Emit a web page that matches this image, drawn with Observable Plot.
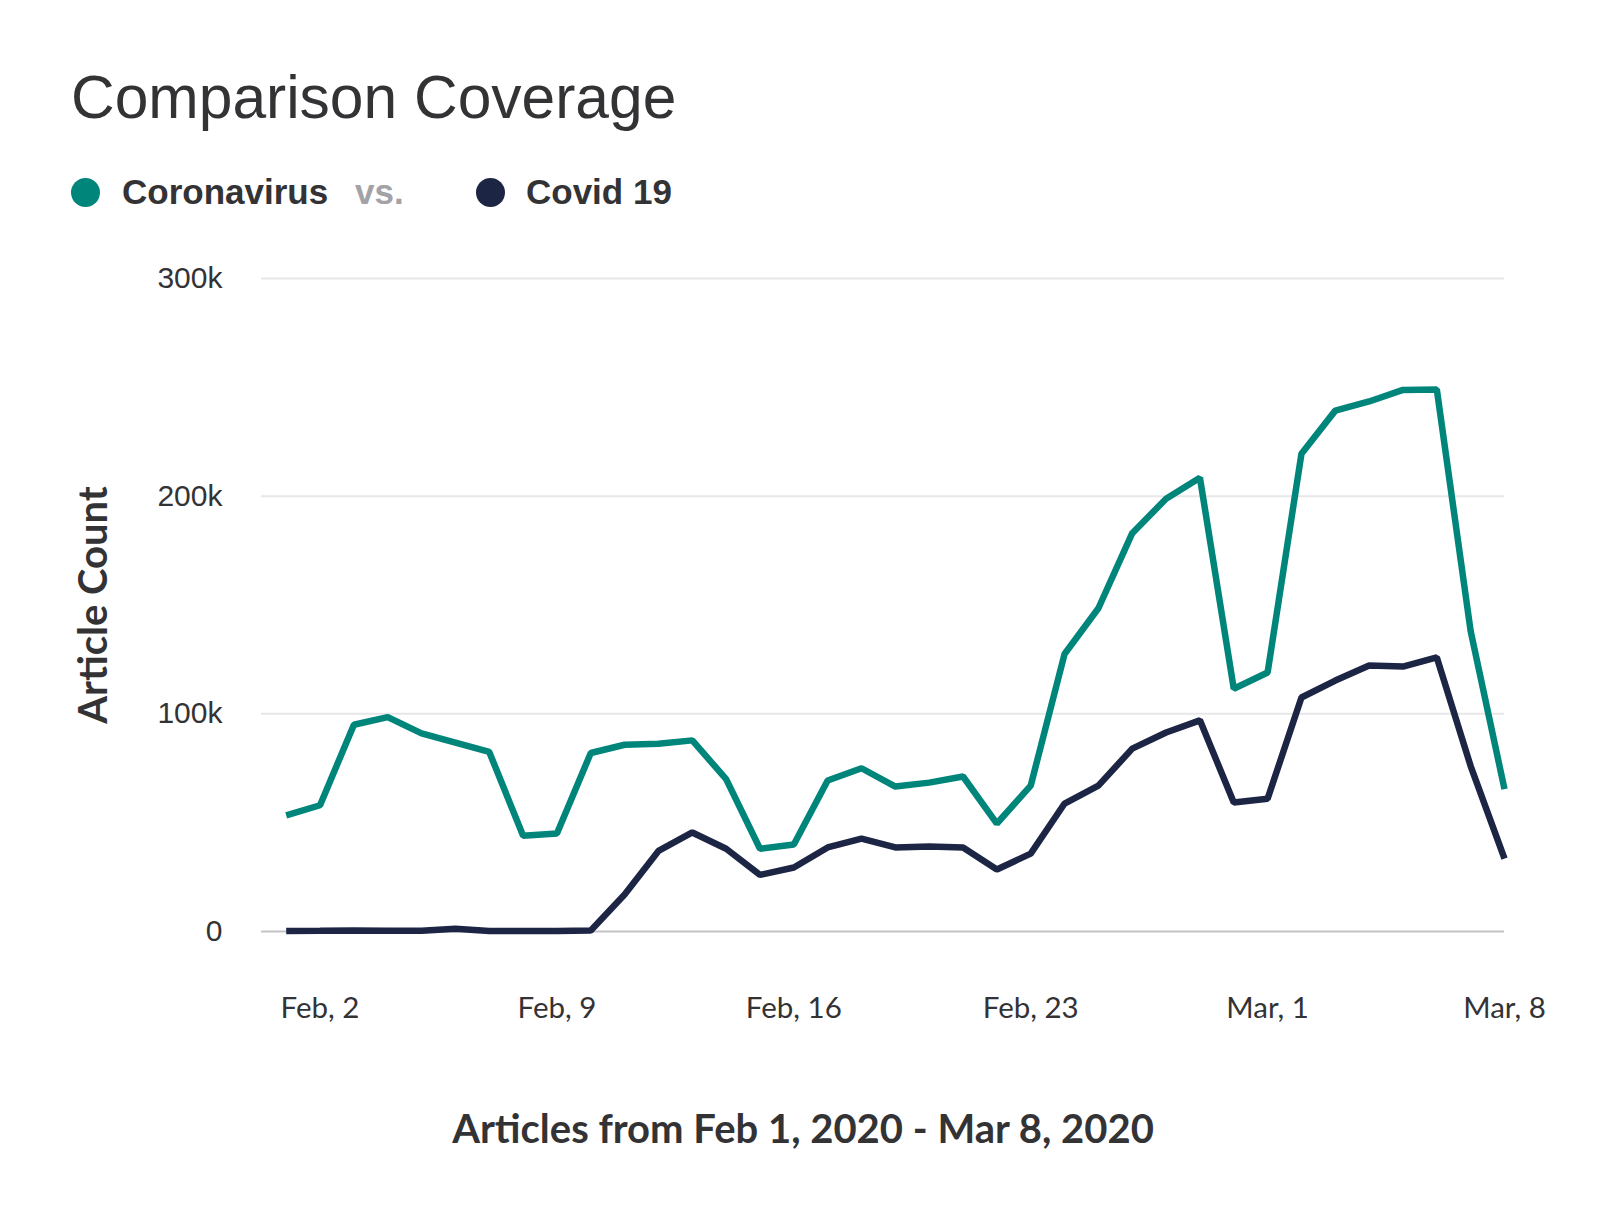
<!DOCTYPE html>
<html>
<head>
<meta charset="utf-8">
<script src="https://cdn.jsdelivr.net/npm/d3@7"></script>
<script src="https://cdn.jsdelivr.net/npm/@observablehq/plot@0.6"></script>
<style>
  html, body { margin: 0; padding: 0; background: #fff; }
  #page { position: relative; width: 1600px; height: 1217px; overflow: hidden; }
  .abs { position: absolute; white-space: nowrap; line-height: 1; }
  #title { left: 71px; top: 62px; font: 400 60.5px "Liberation Sans", Arial, sans-serif; color: #333336; }
  .leg { top: 172px; font: 700 35px "Liberation Sans", Arial, sans-serif; color: #333336; }
  .dot { position: absolute; width: 29px; height: 29px; border-radius: 50%; top: 178px; }
  #chart { position: absolute; left: 0; top: 240px; }
</style>
</head>
<body>
<div id="page">
  <div id="title" class="abs"></div>
  <div id="legend"></div>
  <div id="chart"></div>
</div>
<script>
// ---- data ----
const titleText = "Comparison Coverage";
const seriesNames = ["Coronavirus", "Covid 19"];
const vsText = "vs.";
const seriesColors = ["#00857b", "#1d2545"];
const yLabel = "Article Count";
const xTitle = "Articles from Feb 1, 2020 - Mar 8, 2020";

const dates = [
  "2020-02-01","2020-02-02","2020-02-03","2020-02-04","2020-02-05","2020-02-06","2020-02-07",
  "2020-02-08","2020-02-09","2020-02-10","2020-02-11","2020-02-12","2020-02-13","2020-02-14",
  "2020-02-15","2020-02-16","2020-02-17","2020-02-18","2020-02-19","2020-02-20","2020-02-21",
  "2020-02-22","2020-02-23","2020-02-24","2020-02-25","2020-02-26","2020-02-27","2020-02-28",
  "2020-02-29","2020-03-01","2020-03-02","2020-03-03","2020-03-04","2020-03-05","2020-03-06",
  "2020-03-07","2020-03-08"
];
const coronavirus = [
  53300, 58000, 95000, 98500, 91000, 86800, 82500,
  44000, 45000, 82000, 85800, 86300, 87800, 70000,
  38000, 40000, 69400, 75000, 66600, 68400, 71200,
  49600, 67000, 127500, 148500, 183000, 198800, 208500,
  111500, 119000, 219500, 239300, 243500, 248800, 249000,
  138000, 65400
];
const covid19 = [
  200, 300, 500, 400, 300, 1300, 200,
  200, 200, 500, 17000, 37000, 45500, 38000,
  26000, 29400, 38600, 42700, 38600, 39000, 38600,
  28500, 35800, 58800, 67000, 84000, 91400, 97000,
  59300, 61000, 107500, 115300, 122200, 121700, 125900,
  76000, 33500
];
const xTickDates = ["2020-02-02","2020-02-09","2020-02-16","2020-02-23","2020-03-01","2020-03-08"];
const yTicks = [0, 100000, 200000, 300000];
const yGrid = [100000, 200000, 300000];

// ---- build ----
const parse = d3.utcParse("%Y-%m-%d");
const rows = [];
dates.forEach((d, i) => {
  rows.push({date: parse(d), value: coronavirus[i], series: seriesNames[0]});
});
dates.forEach((d, i) => {
  rows.push({date: parse(d), value: covid19[i], series: seriesNames[1]});
});

document.getElementById("title").textContent = titleText;
const legend = document.getElementById("legend");
function addAbs(html, cls, left, extra) {
  const el = document.createElement("div");
  el.className = cls;
  el.style.left = left + "px";
  if (extra) Object.assign(el.style, extra);
  el.textContent = html;
  legend.appendChild(el);
  return el;
}
addAbs("", "dot", 71, {background: seriesColors[0]});
addAbs(seriesNames[0], "abs leg", 122);
addAbs(vsText, "abs leg", 355, {color: "#a2a2a7"});
addAbs("", "dot", 476, {background: seriesColors[1]});
addAbs(seriesNames[1], "abs leg", 526);

const first = parse(dates[0]);
const last = parse(dates[dates.length - 1]);
const pad = 0.73 * 864e5;

const chart = Plot.plot({
  width: 1600,
  height: 977,
  marginLeft: 261,
  marginRight: 96,
  marginTop: 38,
  marginBottom: 286,
  style: {fontFamily: "Lato, sans-serif", color: "#333336", background: "#fff"},
  x: {type: "utc", domain: [new Date(+first - pad), last]},
  y: {domain: [0, 300000]},
  color: {domain: seriesNames, range: seriesColors},
  marks: [
    Plot.ruleY(yGrid, {stroke: "#e7e7ea", strokeWidth: 2}),
    Plot.ruleY([0], {stroke: "#c3c3c6", strokeWidth: 2}),
    Plot.axisY({
      ticks: yTicks,
      tickSize: 0,
      tickPadding: 39,
      tickFormat: d => d === 0 ? "0" : (d / 1000) + "k",
      label: null,
      fontSize: 30,
      fontFamily: "Liberation Sans, Arial, sans-serif",
      fill: "#333336"
    }),
    Plot.axisX({
      ticks: xTickDates.map(parse),
      tickSize: 0,
      tickPadding: 66,
      tickFormat: d3.utcFormat("%b, %-d"),
      label: null,
      fontSize: 29.5,
      fill: "#333336"
    }),
    Plot.line(rows, {
      x: "date", y: "value", z: "series", stroke: "series",
      strokeWidth: 6.5, strokeLinejoin: "miter", strokeLinecap: "butt"
    }),
    Plot.text([yLabel], {
      text: d => d, frameAnchor: "left", dx: -167, rotate: -90,
      textAnchor: "middle", lineAnchor: "middle",
      fontSize: 40, fontWeight: 700, fill: "#333336"
    }),
    Plot.text([xTitle], {
      text: d => d, frameAnchor: "bottom", dx: -80, dy: 199,
      textAnchor: "middle", lineAnchor: "middle",
      fontSize: 40, fontWeight: 700, fill: "#333336"
    })
  ]
});
document.getElementById("chart").appendChild(chart);
</script>
</body>
</html>
